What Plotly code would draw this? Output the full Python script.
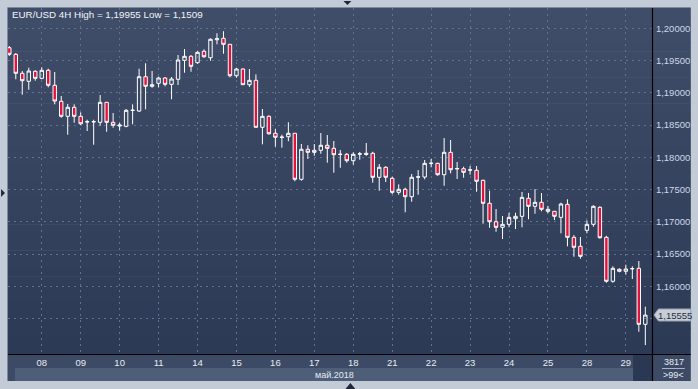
import plotly.graph_objects as go

# ---- data (EUR/USD 4H, 99 bars) ----
opens = [1.19699, 1.19597, 1.19303, 1.19179, 1.19334, 1.19225, 1.19349, 1.19117, 1.18869, 1.18636,
         1.18776, 1.18636, 1.18553, 1.18550, 1.18543, 1.18853, 1.18543, 1.18485, 1.18481, 1.18727,
         1.18718, 1.19250, 1.19101, 1.19148, 1.19230, 1.19132, 1.19210, 1.19504, 1.19566, 1.19467,
         1.19644, 1.19544, 1.19823, 1.19845, 1.19752, 1.19265, 1.19369, 1.19126, 1.19194, 1.18466,
         1.18636, 1.18373, 1.18310, 1.18320, 1.18373, 1.17660, 1.18125, 1.18078, 1.18109, 1.18187,
         1.18140, 1.18045, 1.18047, 1.17948, 1.18050, 1.18063, 1.18063, 1.17691, 1.17846, 1.17675,
         1.17458, 1.17505, 1.17390, 1.17693, 1.17695, 1.17905, 1.17907, 1.17731, 1.18078, 1.17822,
         1.17824, 1.17802, 1.17799, 1.17644, 1.17288, 1.17002, 1.16916, 1.16962, 1.17049, 1.17086,
         1.17365, 1.17241, 1.17303, 1.17195, 1.17164, 1.17070, 1.17272, 1.16760, 1.16621, 1.16869,
         1.16962, 1.17226, 1.16760, 1.16079, 1.16265, 1.16234, 1.16272, 1.16280, 1.15412]
highs = [1.19726, 1.19617, 1.19338, 1.19389, 1.19349, 1.19396, 1.19374, 1.19323, 1.18951, 1.18827,
         1.18822, 1.18698, 1.18583, 1.18583, 1.18966, 1.18856, 1.18687, 1.18537, 1.18749, 1.18822,
         1.19374, 1.19458, 1.19338, 1.19250, 1.19245, 1.19245, 1.19586, 1.19679, 1.19586, 1.19644,
         1.19675, 1.19845, 1.19923, 1.19955, 1.19757, 1.19389, 1.19380, 1.19369, 1.19287, 1.18749,
         1.18652, 1.18439, 1.18351, 1.18543, 1.18375, 1.18207, 1.18187, 1.18207, 1.18377, 1.18346,
         1.18253, 1.18114, 1.18067, 1.18078, 1.18083, 1.18222, 1.18087, 1.17897, 1.17861, 1.17700,
         1.17582, 1.17529, 1.17742, 1.17804, 1.17959, 1.17974, 1.17917, 1.18300, 1.18269, 1.17928,
         1.17855, 1.17866, 1.17866, 1.17656, 1.17483, 1.17199, 1.17091, 1.17142, 1.17142, 1.17463,
         1.17447, 1.17509, 1.17447, 1.17246, 1.17168, 1.17297, 1.17350, 1.16796, 1.16765, 1.17024,
         1.17257, 1.17241, 1.16785, 1.16311, 1.16280, 1.16336, 1.16311, 1.16393, 1.15685]
lows = [1.19571, 1.19210, 1.18971, 1.19048, 1.19188, 1.19210, 1.19086, 1.18822, 1.18614, 1.18351,
        1.18537, 1.18501, 1.18408, 1.18196, 1.18490, 1.18397, 1.18459, 1.18413, 1.18466, 1.18512,
        1.18703, 1.18745, 1.19079, 1.19086, 1.19101, 1.18900, 1.19121, 1.19312, 1.19327, 1.19451,
        1.19544, 1.19498, 1.19752, 1.19606, 1.19241, 1.19234, 1.19121, 1.19090, 1.18461, 1.18202,
        1.18351, 1.18165, 1.18149, 1.18249, 1.17629, 1.17638, 1.17974, 1.18025, 1.18056, 1.17917,
        1.17762, 1.17839, 1.17917, 1.17886, 1.17963, 1.18025, 1.17607, 1.17483, 1.17618, 1.17432,
        1.17421, 1.17148, 1.17312, 1.17421, 1.17660, 1.17846, 1.17715, 1.17560, 1.17752, 1.17664,
        1.17684, 1.17731, 1.17467, 1.16971, 1.16909, 1.16847, 1.16734, 1.16916, 1.16889, 1.16916,
        1.17040, 1.17126, 1.17164, 1.17133, 1.17029, 1.16823, 1.16621, 1.16460, 1.16429, 1.16823,
        1.16925, 1.16739, 1.16057, 1.16057, 1.16218, 1.16181, 1.16114, 1.15297, 1.15090]
closes = [1.19597, 1.19303, 1.19188, 1.19338, 1.19225, 1.19349, 1.19117, 1.18873, 1.18636, 1.18776,
          1.18636, 1.18521, 1.18550, 1.18553, 1.18853, 1.18543, 1.18497, 1.18500, 1.18729, 1.18731,
          1.19250, 1.19101, 1.19126, 1.19230, 1.19132, 1.19214, 1.19509, 1.19566, 1.19411, 1.19628,
          1.19560, 1.19830, 1.19839, 1.19752, 1.19265, 1.19369, 1.19126, 1.19194, 1.18466, 1.18636,
          1.18366, 1.18311, 1.18313, 1.18373, 1.17660, 1.18125, 1.18078, 1.18109, 1.18187, 1.18140,
          1.18041, 1.18048, 1.17948, 1.18047, 1.18054, 1.18047, 1.17691, 1.17846, 1.17691, 1.17458,
          1.17505, 1.17390, 1.17691, 1.17697, 1.17907, 1.17909, 1.17731, 1.18078, 1.17808, 1.17826,
          1.17768, 1.17806, 1.17629, 1.17288, 1.17002, 1.16916, 1.16962, 1.17070, 1.17086, 1.17380,
          1.17241, 1.17303, 1.17195, 1.17164, 1.17086, 1.17277, 1.16760, 1.16606, 1.16466, 1.16962,
          1.17241, 1.16754, 1.16079, 1.16280, 1.16234, 1.16269, 1.16276, 1.15412, 1.15555]

day_labels = ["08", "09", "10", "11", "14", "15", "16", "17", "18", "21", "22", "23", "24", "25", "28", "29"]
day_start_bar = [5, 11, 17, 23, 29, 35, 41, 47, 53, 59, 65, 71, 77, 83, 89, 95]
price_ticks = [1.155, 1.16, 1.165, 1.17, 1.175, 1.18, 1.185, 1.19, 1.195, 1.20]
price_tick_text = ["", "1,16000", "1,16500", "1,17000", "1,17500", "1,18000", "1,18500", "1,19000",
                   "1,19500", "1,20000"]
title_text = "EUR/USD 4H High = 1,19955 Low = 1,1509"
month_text = "май.2018"
last_price_text = "1,15555"
bars_text = "3817"
zoom_text = ">99<"

bar_index = list(range(len(opens)))

W, H = 698, 389
L, R, T, B = 8, 655, 8, 354  # plot area in pixels


def px(x):
    return (x - L) / (R - L)


def py(y):
    return (B - y) / (B - T)


FONT = "Liberation Sans"

fig = go.Figure()
fig.add_trace(go.Candlestick(
    x=bar_index, open=opens, high=highs, low=lows, close=closes,
    increasing=dict(line=dict(color="#ffffff", width=1), fillcolor="rgba(0,0,0,0)"),
    decreasing=dict(line=dict(color="#ffffff", width=1), fillcolor="#e2123c"),
    whiskerwidth=0, hoverinfo="skip", showlegend=False,
))

shapes = []
# gradient background of chart + right axis panel
top_c = (63, 77, 104)
bot_c = (44, 58, 86)
n = 40
for i in range(n):
    t = i / (n - 1)
    c = tuple(round(top_c[k] + (bot_c[k] - top_c[k]) * t) for k in range(3))
    y0 = T + (B - T) * i / n
    y1 = T + (B - T) * (i + 1) / n + 0.6
    shapes.append(dict(type="rect", xref="paper", yref="paper", x0=px(L), x1=px(694),
                       y0=py(y0), y1=py(min(y1, B)), line=dict(width=0),
                       fillcolor="rgb(%d,%d,%d)" % c, layer="below"))
# bottom axis band
shapes.append(dict(type="rect", xref="paper", yref="paper", x0=px(L), x1=px(694), y0=py(381), y1=py(B),
                   line=dict(width=0), fillcolor="#3d4a65", layer="below"))
# month strip
shapes.append(dict(type="rect", xref="paper", yref="paper", x0=px(15), x1=px(636), y0=py(381), y1=py(368),
                   line=dict(width=0), fillcolor="#4e5d78", layer="below"))
# scroll box
shapes.append(dict(type="rect", xref="paper", yref="paper", x0=px(636), x1=px(655), y0=py(381), y1=py(B),
                   line=dict(width=0), fillcolor="#2b3853", layer="below"))
# black separators
shapes.append(dict(type="line", xref="paper", yref="paper", x0=px(655.5), x1=px(655.5), y0=py(381), y1=py(T),
                   line=dict(color="#000000", width=1.2), layer="above"))
shapes.append(dict(type="line", xref="paper", yref="paper", x0=px(L), x1=px(694), y0=py(354.5), y1=py(354.5),
                   line=dict(color="#000000", width=1.2), layer="above"))
# frame edges
shapes.append(dict(type="line", xref="paper", yref="paper", x0=px(7.5), x1=px(7.5), y0=py(381), y1=py(7.5),
                   line=dict(color="#7e8a9e", width=1), layer="above"))
shapes.append(dict(type="line", xref="paper", yref="paper", x0=px(7.5), x1=px(694), y0=py(7.5), y1=py(7.5),
                   line=dict(color="#7e8a9e", width=1), layer="above"))
# line under bar count
shapes.append(dict(type="line", xref="paper", yref="paper", x0=px(665), x1=px(688), y0=py(368.5), y1=py(368.5),
                   line=dict(color="#aab4c4", width=1), layer="above"))
# last price marker
mk = "M %f %f L %f %f L %f %f L %f %f L %f %f Z" % (
    px(657), py(315), px(661.5), py(309), px(694), py(309), px(694), py(321), px(661.5), py(321))
shapes.append(dict(type="path", xref="paper", yref="paper", path=mk, fillcolor="#c9ced6",
                   line=dict(color="#9aa3b0", width=1), layer="above"))
# little navigation triangles
tri_top = "M %f %f L %f %f L %f %f Z" % (px(345), py(1), px(353), py(1), px(349), py(5))
tri_left = "M %f %f L %f %f L %f %f Z" % (px(1), py(189), px(1), py(197), px(5), py(193))
tri_bot = "M %f %f L %f %f L %f %f Z" % (px(347), py(389), px(357), py(389), px(352), py(383))
for p in (tri_top, tri_left, tri_bot):
    shapes.append(dict(type="path", xref="paper", yref="paper", path=p, fillcolor="#1f2738",
                       line=dict(width=0), layer="above"))

annotations = [
    dict(text=title_text, xref="paper", yref="paper", x=px(10), y=py(14.5), xanchor="left", yanchor="middle",
         showarrow=False, font=dict(family=FONT, size=9.8, color="#f2f4f8")),
    dict(text=month_text, xref="paper", yref="paper", x=px(336), y=py(374.5), xanchor="center", yanchor="middle",
         showarrow=False, font=dict(family=FONT, size=9, color="#e6ebf2")),
    dict(text=last_price_text, xref="paper", yref="paper", x=px(678), y=py(315), xanchor="center",
         yanchor="middle", showarrow=False, font=dict(family=FONT, size=9.5, color="#243047")),
    dict(text=bars_text, xref="paper", yref="paper", x=px(677), y=py(362), xanchor="center", yanchor="middle",
         showarrow=False, font=dict(family=FONT, size=9, color="#e6ebf2")),
    dict(text=zoom_text, xref="paper", yref="paper", x=px(677), y=py(375), xanchor="center", yanchor="middle",
         showarrow=False, font=dict(family=FONT, size=9, color="#e6ebf2")),
]

fig.update_layout(
    width=W, height=H,
    margin=dict(l=L, r=W - R, t=T, b=H - B, pad=0),
    paper_bgcolor="#c3cbd7", plot_bgcolor="rgba(0,0,0,0)",
    separators=",.",
    boxgap=0.25,
    showlegend=False, hovermode=False,
    shapes=shapes, annotations=annotations,
    xaxis=dict(
        range=[-0.2, 99.03], rangeslider=dict(visible=False),
        tickmode="array", tickvals=day_start_bar, ticktext=day_labels,
        showgrid=True, gridcolor="#62718d", griddash="2px,4px", gridwidth=1,
        zeroline=False, showline=False, ticks="outside", ticklen=0, tickcolor="rgba(0,0,0,0)",
        tickfont=dict(family=FONT, size=9.5, color="#e6ebf2"), fixedrange=True,
    ),
    yaxis=dict(
        side="right", range=[1.14952, 1.20315],
        tickmode="array", tickvals=price_ticks, ticktext=price_tick_text,
        showgrid=True, gridcolor="#62718d", griddash="2px,4px", gridwidth=1,
        zeroline=False, showline=False, ticks="outside", ticklen=1, tickcolor="rgba(0,0,0,0)",
        tickfont=dict(family=FONT, size=9.5, color="#cdd7e8"), fixedrange=True,
    ),
)

fig.write_html("out.html", config={"displayModeBar": False},
               post_script="document.body.style.margin='0';document.body.style.overflow='hidden';")
